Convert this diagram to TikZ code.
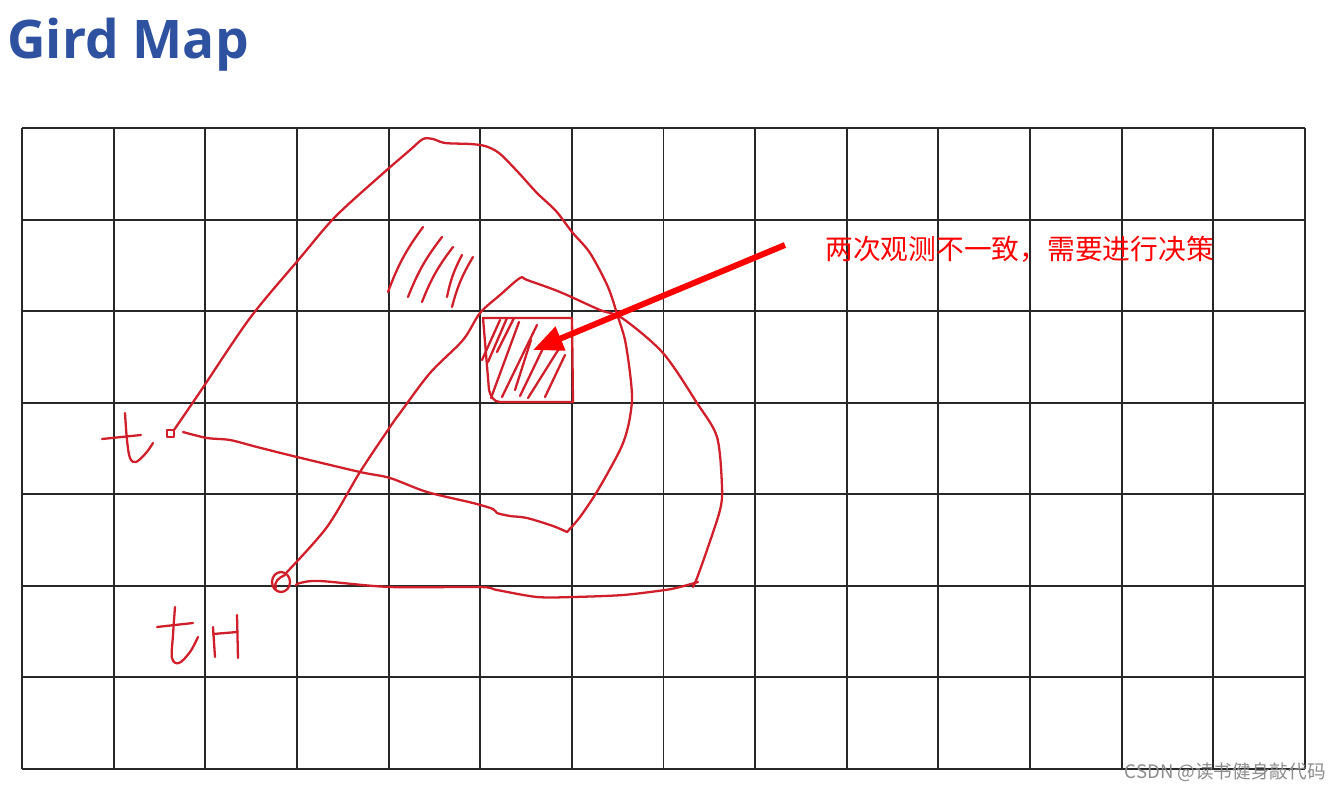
\documentclass[tikz,border=0pt]{standalone}
\usepackage{fontspec}
\usetikzlibrary{arrows.meta}
\newfontfamily\titlefont{Open Sans}
\newfontfamily\cjk{Noto Sans CJK SC}
\definecolor{titleblue}{RGB}{47,82,160}
\definecolor{pen}{RGB}{208,30,42}
\definecolor{gridc}{RGB}{40,40,40}
\tikzset{
  gridline/.style={draw=gridc, line width=1.1pt},
  penline/.style={draw=pen, line width=1.3pt, line cap=round, line join=round},
  bigarrow/.style={draw=red, line width=3.4pt, -{Triangle[length=17pt,width=14pt]}},
}
\begin{document}
\begin{tikzpicture}[x=0.02cm, y=-0.02cm]
\useasboundingbox (0,0) rectangle (1339,791);
\fill[white] (0,0) rectangle (1339,791);
% title
\node[anchor=base west, inner sep=0pt, text=titleblue, font=\titlefont\bfseries\fontsize{30.3}{36}\selectfont] (title) at (7,58) {Gird Map};
% grid
\foreach \i in {0,...,14} {
  \draw[gridline] ({22+\i*91.643},128) -- ({22+\i*91.643},769);
}
\foreach \j in {0,...,7} {
  \draw[gridline] (22,{128+\j*91.57}) -- (1305,{128+\j*91.57});
}
% sector at t
\draw[penline] plot[smooth, tension=0.5] coordinates {
 (174,430) (200,392) (250,318) (300,258) (335,217) (380,176) (410,150) (423,139) (433,139) (445,143) (470,144) (485,146) (499,153) (517,171) (537,193) (556,211) (572,232) (590,253) (608,287) (618,317) (625,340) (630,373) (632,400) (628,427) (620,450) (598,490) (580,517) (567,532)};
\draw[penline] plot[smooth, tension=0.5] coordinates {
 (567,532) (553,526) (527,518) (510,516) (497,513) (493,509) (473,503) (427,492) (390,478) (360,472) (297,457) (257,447) (230,440) (207,438) (183,432)};
\draw[penline] (167,430) rectangle (174,437);
% label t
\draw[penline] (102,439) -- (141,435);
\draw[penline] plot[smooth, tension=0.6] coordinates {(125,413) (127,440) (130,458) (136,462) (146,453) (153,443)};
% sector at t+1
\draw[penline] (281,582) circle[x radius=9, y radius=10];
\draw[penline] (276,588) to[out=120,in=200] (285,575);
\draw[penline] plot[smooth, tension=0.5] coordinates {
 (287,572) (327,527) (360,472) (390,427) (400,413) (430,373) (463,340) (480,313) (500,295) (520,278) (527,280) (560,292) (600,310) (622,318) (663,353) (697,403) (717,437) (722,487) (720,510) (707,550) (697,578) (693,587)};
\draw[penline] plot[smooth, tension=0.5] coordinates {
 (698,582) (680,587) (665,590) (623,595) (573,597) (537,597) (497,590) (480,587) (390,587) (320,581) (300,583) (296,585)};
% label t+1 (handwritten "tH")
\draw[penline] (157,627) -- (193,623);
\draw[penline] plot[smooth, tension=0.6] coordinates {(175,607) (173,635) (172,658) (179,663) (190,652) (198,637)};
\draw[penline] (213,627) -- (215,657);
\draw[penline] (237,615) -- (238,658);
\draw[penline] (213,634) -- (237,632);
% hatched cell where the two observations disagree
\draw[penline] (483,318) -- (572,318) -- (573,402) -- (500,402) to[out=180,in=-75] (489,390) -- cycle;
\foreach \a/\b/\c/\d in {500/320/482/360, 507/318/488/362, 514/318/497/352, 519/322/491/398, 537/325/502/397, 531/340/515/390, 548/338/520/396, 560/347/528/398, 565/355/545/397} {
  \draw[penline] (\a,\b) -- (\c,\d);
}
% hatch in the cell above-left
\foreach \a/\b/\c/\d in {423/227/388/292, 442/237/408/297, 453/247/422/302, 462/255/447/297, 473/257/452/307} {
  \draw[penline] (\a,\b) to[bend right=8] (\c,\d);
}
% annotation
\node[anchor=west, inner sep=0pt, text=red, font=\cjk\fontsize{15.8}{18}\selectfont] (note) at (825,249) {两次观测不一致，需要进行决策};
\coordinate (arrowstart) at (785,245);
\coordinate (conflict) at (533,350);
\draw[bigarrow] (arrowstart) -- (conflict);
% watermark
\node[anchor=east, inner sep=0pt, text=black!45, font=\cjk\fontsize{10.6}{12}\selectfont] (mark) at (1326,772) {CSDN @读书健身敲代码};
\end{tikzpicture}
\end{document}
